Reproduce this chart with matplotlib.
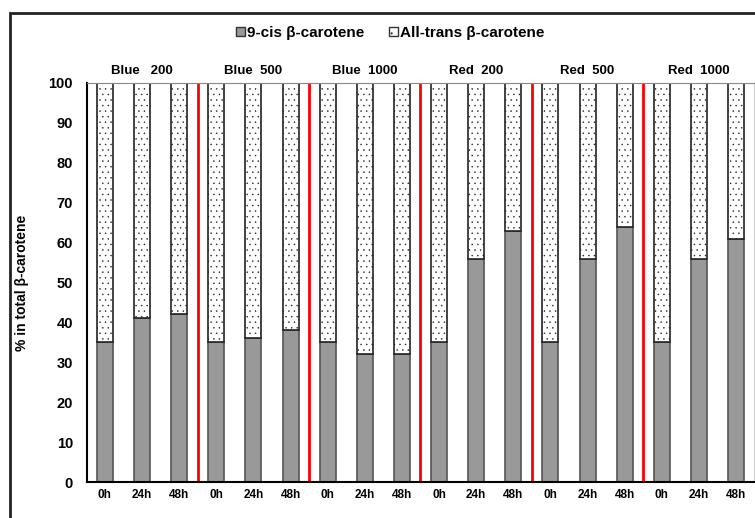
import matplotlib
matplotlib.use("Agg")
import matplotlib.pyplot as plt
import numpy as np
from matplotlib.patches import Rectangle, Patch

plt.rcParams['font.family'] = ['Liberation Sans', 'DejaVu Sans']
plt.rcParams['hatch.linewidth'] = 0.3

groups = ['Blue   200', 'Blue  500', 'Blue  1000', 'Red  200', 'Red  500', 'Red  1000']
times = ['0h', '24h', '48h']
cis_values = [35, 41, 42,
              35, 36, 38,
              35, 32, 32,
              35, 56, 63,
              35, 56, 64,
              35, 56, 61]
trans_values = [100 - v for v in cis_values]
yticks = [0, 10, 20, 30, 40, 50, 60, 70, 80, 90, 100]

fig = plt.figure(figsize=(7.55, 5.18), dpi=100)
ax = fig.add_axes([87 / 755, 36 / 518, (754 - 87) / 755, (482 - 83) / 518])

x = np.arange(len(cis_values))
ax.bar(x, cis_values, width=0.43, color='#999999', edgecolor='#555555', linewidth=1.2)
ax.bar(x, trans_values, bottom=cis_values, width=0.43, color='white',
       edgecolor='#222222', linewidth=1.2, hatch='...')

for i in range(1, len(groups)):
    ax.axvline(i * 3 - 0.5, color='#ff0000', linewidth=2)

for i, g in enumerate(groups):
    ax.text(i * 3 + 1, 101.5, g, ha='center', va='bottom', fontsize=9.5, fontweight='bold')

ax.set_xlim(-0.48, 17.48)
ax.set_ylim(0, 100)
ax.set_yticks(yticks)
ax.set_xticks(x)
ax.set_xticklabels(times * len(groups), fontsize=8.5, fontweight='bold')
ax.tick_params(axis='y', length=0, pad=10, labelsize=10.5)
ax.tick_params(axis='x', length=0, pad=5)
for lab in ax.get_yticklabels():
    lab.set_fontweight('bold')
ax.set_ylabel('% in total β-carotene', fontsize=10, fontweight='bold', labelpad=14)

ax.spines['left'].set_linewidth(1.5)
ax.spines['bottom'].set_linewidth(1.5)
ax.spines['top'].set_color('#888888')
ax.spines['right'].set_color('#cccccc')

handles = [Patch(facecolor='#999999', edgecolor='#333333'),
           Patch(facecolor='white', edgecolor='#333333', hatch='..')]
fig.legend(handles, ['9-cis β-carotene', 'All-trans β-carotene'], loc='center',
           bbox_to_anchor=(390 / 755, 1 - 33 / 518), ncol=2, frameon=False,
           handlelength=0.6, handleheight=0.6, handletextpad=0.15, columnspacing=1.6,
           prop={'weight': 'bold', 'size': 11})

fig.patches.append(Rectangle((10 / 755, -0.1), 1.2, 1 - 13 / 518 + 0.1,
                             transform=fig.transFigure, fill=False,
                             edgecolor='#222222', linewidth=2))

fig.savefig('out.png', dpi=100)
